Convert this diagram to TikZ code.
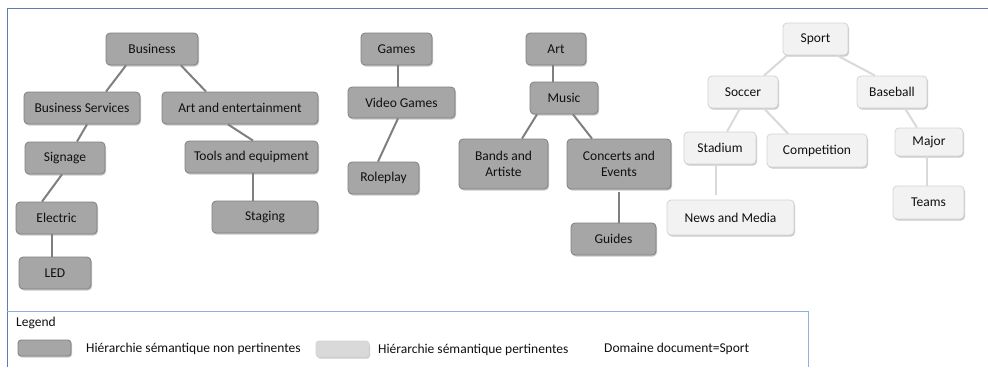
\documentclass[tikz,border=0pt]{standalone}
\usepackage{fontspec}
\setmainfont{Carlito}
\usetikzlibrary{shadows}
\definecolor{frame}{HTML}{5B7DB0}
\definecolor{legframe}{HTML}{8FB0DE}
\definecolor{darkfill}{HTML}{A6A6A6}
\definecolor{darkedge}{HTML}{808080}
\definecolor{lightfill}{HTML}{F2F2F2}
\definecolor{lightedge}{HTML}{D4D4D4}
\definecolor{darkgrey}{HTML}{7F7F7F}
\definecolor{lightgrey}{HTML}{D9D9D9}
\definecolor{ink}{HTML}{101010}

\tikzset{
  concept/.style={rounded corners=4pt,line width=0.8pt,minimum height=32pt,inner sep=2pt,align=center,
    drop shadow={shadow xshift=1pt,shadow yshift=-1.5pt,opacity=.35,fill=black!60}},
  darkbox/.style={concept,draw=darkedge,fill=darkfill},
  lightbox/.style={concept,draw=lightedge,fill=lightfill},
  darkwire/.style={darkgrey,line width=2pt},
  stemwire/.style={darkgrey,line width=2.8pt},
  lightwire/.style={lightgrey,line width=2pt}
}

\begin{document}
\begin{tikzpicture}[x=1pt,y=-1pt,font=\fontsize{13.5}{15.5}\selectfont,text=ink]
  \useasboundingbox (0,0) rectangle (988,367);
  \draw[frame,line width=1pt] (988,8) -- (7,8) -- (7,367);
  \draw[legframe,line width=1pt] (7,311) -- (808,311) -- (808,367);

  \node[darkbox,minimum width=92pt] (biz) at (152,49) {Business};
  \node[darkbox,minimum width=116pt] (bsvc) at (82,108) {Business Services};
  \node[darkbox,minimum width=156pt] (arts) at (240,108) {Art and entertainment};
  \node[darkbox,minimum width=80pt] (sign) at (65,158) {Signage};
  \node[darkbox,minimum width=133pt] (tools) at (251.5,157) {Tools and equipment};
  \node[darkbox,minimum width=81pt] (elec) at (56.5,218) {Electric};
  \node[darkbox,minimum width=106pt] (stag) at (265,217) {Staging};
  \node[darkbox,minimum width=72pt] (led) at (55,273) {LED};
  \draw[darkwire] ([xshift=-26]biz.south) -- ([xshift=24]bsvc.north);
  \draw[darkwire] ([xshift=29]biz.south) -- ([xshift=-34]arts.north);
  \draw[darkwire] ([xshift=5]bsvc.south) -- ([xshift=12]sign.north);
  \draw[darkwire] ([xshift=-12]arts.south) -- ([xshift=1.5]tools.north);
  \draw[darkwire] ([xshift=-3]sign.south) -- ([xshift=-14.5]elec.north);
  \draw[stemwire] ([xshift=1.5]tools.south) -- ([xshift=1.5]tools.south |- stag.north);
  \draw[stemwire] ([xshift=-4.5]elec.south) -- ([xshift=-4.5]elec.south |- led.north);

  \node[darkbox,minimum width=71pt] (games) at (396.5,49) {Games};
  \node[darkbox,minimum width=107pt,minimum height=31pt] (vgames) at (401.5,102.5) {Video Games};
  \node[darkbox,minimum width=71pt] (role) at (383.5,178) {Roleplay};
  \draw[darkwire] ([xshift=1.5]games.south) -- ([xshift=1.5]games.south |- vgames.north);
  \draw[darkwire] ([xshift=-3.5]vgames.south) -- ([xshift=-5.5]role.north);

  \node[darkbox,minimum width=60pt] (art) at (556,49) {Art};
  \node[darkbox,minimum width=68pt] (music) at (564,98) {Music};
  \node[darkbox,minimum width=89pt,minimum height=50pt] (bands) at (503.5,164) {Bands and\\Artiste};
  \node[darkbox,minimum width=104pt,minimum height=50pt] (conc) at (619,164) {Concerts and\\Events};
  \node[darkbox,minimum width=85pt] (guides) at (613.5,239) {Guides};
  \draw[darkwire] ([xshift=-3]art.south) -- ([xshift=-3]art.south |- music.north);
  \draw[darkwire] ([xshift=-27]music.south) -- ([xshift=18.5]bands.north);
  \draw[darkwire] ([xshift=9]music.south) -- ([xshift=-27]conc.north);
  \draw[darkwire,shorten <=3pt] (conc.south) -- (conc.south |- guides.north);

  \node[lightbox,minimum width=65pt] (sport) at (815.5,39) {Sport};
  \node[lightbox,minimum width=70pt] (soccer) at (743,92) {Soccer};
  \node[lightbox,minimum width=70pt] (base) at (892,92) {Baseball};
  \node[lightbox,minimum width=72pt] (stad) at (720,148) {Stadium};
  \node[lightbox,minimum width=100pt,minimum height=33pt] (comp) at (817,150.5) {Competition};
  \node[lightbox,minimum width=68pt,minimum height=28pt] (major) at (929,142) {Major};
  \node[lightbox,minimum width=127pt,minimum height=35pt] (news) at (730.5,217.5) {News and Media};
  \node[lightbox,minimum width=71pt,minimum height=33pt] (teams) at (928.5,202.5) {Teams};
  \draw[lightwire] ([xshift=-28.5]sport.south) -- ([xshift=21]soccer.north);
  \draw[lightwire] ([xshift=21.5]sport.south) -- ([xshift=-17]base.north);
  \draw[lightwire] ([xshift=-3]soccer.south) -- ([xshift=7]stad.north);
  \draw[lightwire] ([xshift=21]soccer.south) -- ([xshift=-29]comp.north);
  \draw[lightwire] ([xshift=13]base.south) -- ([xshift=-12]major.north);
  \draw[lightwire,shorten >=5pt] ([xshift=-4]stad.south) -- ([xshift=-4]stad.south |- news.north);
  \draw[lightwire] ([xshift=-2]major.south) -- ([xshift=-2]major.south |- teams.north);

  \begin{scope}[font=\fontsize{13.5}{15}\selectfont]
    \node[anchor=west,inner sep=0pt] (legtitle) at (16,323) {Legend};
    \node[darkbox,minimum width=53pt,minimum height=16pt,inner sep=0pt,rounded corners=3pt] (darkkey) at (44.5,348) {};
    \node[anchor=west,inner sep=0pt] (darktext) at (86,349) {Hiérarchie sémantique non pertinentes};
    \node[lightbox,fill=lightgrey,minimum width=53pt,minimum height=16pt,inner sep=0pt,rounded corners=3pt] (lightkey) at (342.5,349) {};
    \begin{scope}
      \clip (372,330) rectangle (567,367);
      \node[anchor=west,inner sep=0pt] (lighttext) at (378,350) {Hiérarchie sémantique pertinentes};
    \end{scope}
    \node[anchor=west,inner sep=0pt] (domain) at (604,349) {Domaine document=Sport};
  \end{scope}
\end{tikzpicture}
\end{document}
